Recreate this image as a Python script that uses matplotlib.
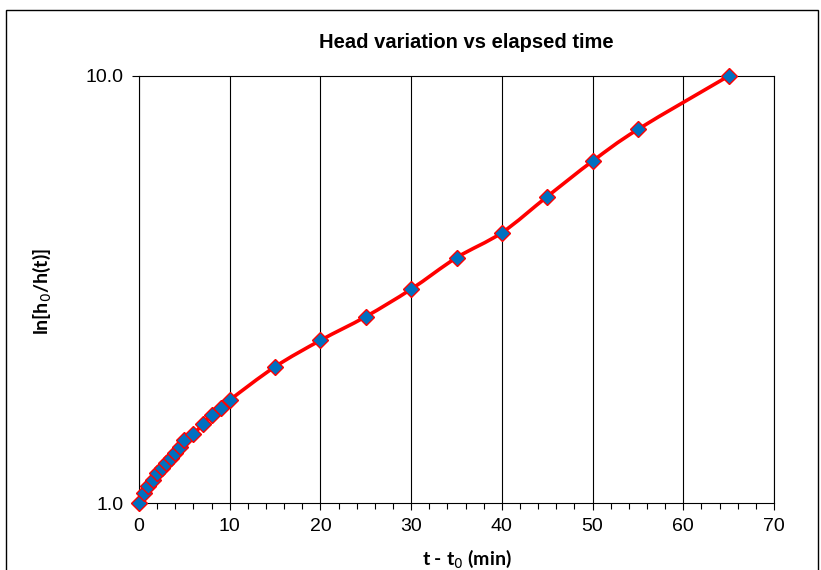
import numpy as np
import matplotlib.pyplot as plt
from matplotlib.path import Path
from matplotlib.patches import PathPatch, Rectangle
from matplotlib.ticker import FixedLocator, MultipleLocator, NullLocator

plt.rcParams['font.family'] = ['Liberation Sans', 'DejaVu Sans']

# elapsed time (min) and ln[h0/h(t)]
t_min = [0, 0.5, 1, 1.5, 2, 2.5, 3, 3.5, 4, 4.5, 5, 6, 7, 8, 9, 10,
         15, 20, 25, 30, 35, 40, 45, 50, 55, 65]
ln_ratio = [1.0, 1.054, 1.098, 1.132, 1.174, 1.21, 1.243, 1.274, 1.311, 1.349,
            1.402, 1.45, 1.528, 1.607, 1.666, 1.742,
            2.085, 2.404, 2.732, 3.168, 3.754, 4.296, 5.22, 6.32, 7.50, 10.0]


#Сглаженная линия как в Excel: кривые Безье через точки (в лог. пространстве по y)
def smoothPath(x, y, tension=1 / 6):
    x = np.asarray(x, float)
    ly = np.log10(np.asarray(y, float))
    n = len(x)
    verts = [(x[0], ly[0])]
    codes = [Path.MOVETO]
    for i in range(n - 1):
        i0 = max(i - 1, 0)
        i3 = min(i + 2, n - 1)
        c1 = (x[i] + (x[i + 1] - x[i0]) * tension, ly[i] + (ly[i + 1] - ly[i0]) * tension)
        c2 = (x[i + 1] - (x[i3] - x[i]) * tension, ly[i + 1] - (ly[i3] - ly[i]) * tension)
        verts += [c1, c2, (x[i + 1], ly[i + 1])]
        codes += [Path.CURVE4] * 3
    verts = [(vx, 10 ** vy) for vx, vy in verts]
    return Path(verts, codes)


fig = plt.figure(figsize=(8.21, 5.70), dpi=100)
ax = fig.add_axes([139 / 821, 1 - 503 / 570, 635 / 821, 427 / 570])

ax.set_yscale('log')
ax.set_xlim(0, 70)
ax.set_ylim(1, 10)

ax.add_patch(PathPatch(smoothPath(t_min, ln_ratio), fill=False, edgecolor='#ff0000',
                       linewidth=2.6, zorder=3, clip_on=False))
ax.plot(t_min, ln_ratio, linestyle='none', marker='D', markersize=8,
        markerfacecolor='#0070c0', markeredgecolor='#ff0000', markeredgewidth=1.0,
        zorder=4, clip_on=False)

ax.xaxis.set_major_locator(MultipleLocator(10))
ax.xaxis.set_minor_locator(MultipleLocator(2))
ax.yaxis.set_major_locator(FixedLocator([1, 10]))
ax.yaxis.set_minor_locator(NullLocator())
ax.set_yticklabels(['1.0', '10.0'])
ax.grid(True, axis='x', which='major', color='black', linewidth=0.8)
ax.tick_params(axis='both', which='major', direction='out', length=5, width=0.8,
               labelsize=14, pad=6)
ax.tick_params(axis='x', which='minor', direction='out', length=4, width=0.8)
for s in ax.spines.values():
    s.set_linewidth(0.8)

fig.text(466 / 821, 1 - 42 / 570, 'Head variation vs elapsed time', ha='center',
         va='center', fontsize=14.5, fontweight='bold')
fig.text(467 / 821, 1 - 565 / 570, 't - t$_0$ (min)', ha='center', va='baseline',
         fontsize=14, fontweight='bold', family=['Lato', 'DejaVu Sans'])
fig.text(42 / 821, 1 - 292 / 570, 'ln[h$_0$/h(t)]', ha='center', va='center',
         rotation=90, fontsize=14, fontweight='bold', family=['Lato', 'DejaVu Sans'])

# рамка вокруг всей диаграммы
fig.patches.append(Rectangle((6 / 821, -0.05), 812 / 821, 1.05 - 10 / 570,
                             transform=fig.transFigure, fill=False,
                             edgecolor='black', linewidth=1.0))

fig.savefig('out.png', dpi=100)
